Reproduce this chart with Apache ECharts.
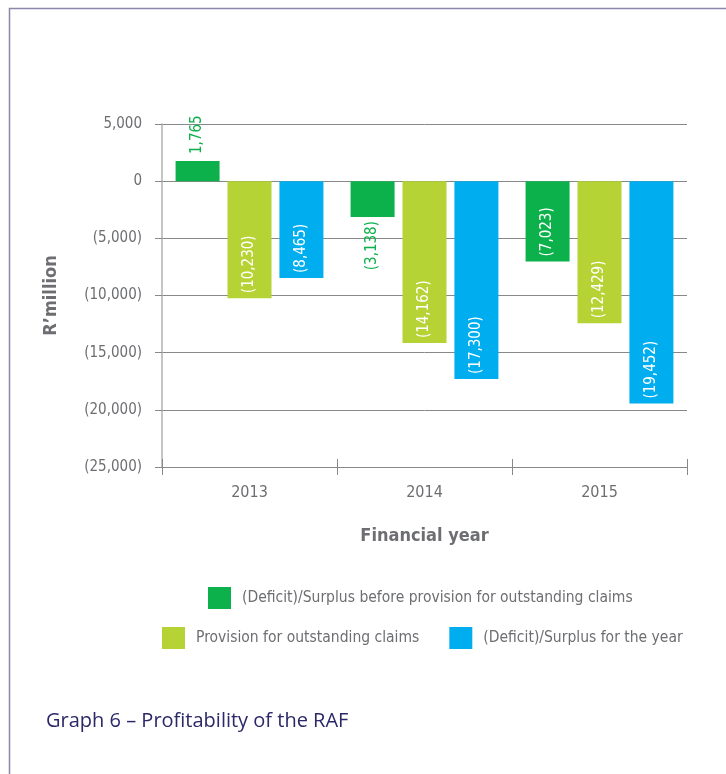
<!DOCTYPE html>
<html>
<head>
<meta charset="utf-8">
<style>
  html, body { margin: 0; padding: 0; background: #ffffff; }
  #chart { width: 726px; height: 774px; }
</style>
<script src="https://cdn.jsdelivr.net/npm/echarts@6/dist/echarts.min.js"></script>
</head>
<body>
<div id="chart"></div>
<script>
// Financial years on the category axis
const years = ['2013', '2014', '2015'];

// Series names (legend entries)
const seriesNames = [
  '(Deficit)/Surplus before provision for outstanding claims',
  'Provision for outstanding claims',
  '(Deficit)/Surplus for the year'
];

// Values in R'million
const beforeProvision = [1765, -3138, -7023];
const provisionClaims = [-10230, -14162, -12429];
const surplusForYear = [-8465, -17300, -19452];

// Value axis settings
const yMin = -25000;
const yMax = 5000;
const yStep = 5000;

const NARROW = '"Liberation Sans Narrow", "DejaVu Sans Condensed", sans-serif';
const GREY = '#6d6e71';
const COLORS = ['#0db14b', '#b5d334', '#00aeef'];

function fmt(v) {
  const s = Math.abs(v).toLocaleString('en-US');
  return v < 0 ? '(' + s + ')' : s;
}

const insideLabel = {
  show: true,
  position: 'insideBottom',
  distance: 5,
  rotate: 90,
  align: 'left',
  verticalAlign: 'middle',
  color: '#ffffff',
  fontFamily: NARROW,
  fontSize: 15,
  formatter: p => fmt(p.value)
};

function barSeries(idx, values, labelFor) {
  return {
    name: seriesNames[idx],
    type: 'bar',
    barWidth: 44,
    barGap: '18%',
    itemStyle: { color: COLORS[idx] },
    label: insideLabel,
    data: values.map((v, i) => {
      const item = { value: v };
      const lbl = labelFor ? labelFor(v, i) : null;
      if (lbl) item.label = lbl;
      return item;
    })
  };
}

const legendText = { fontFamily: NARROW, fontSize: 15.5, color: GREY, padding: [0, 0, 0, 6] };

const chart = echarts.init(document.getElementById('chart'), null, { renderer: 'canvas' });

chart.setOption({
  animation: false,
  backgroundColor: '#ffffff',
  title: {
    text: 'Graph 6 – Profitability of the RAF',
    left: 46,
    top: 711,
    padding: 0,
    textStyle: {
      fontFamily: '"Open Sans", "Noto Sans", sans-serif',
      fontWeight: 'normal',
      fontSize: 20,
      color: '#2b2868'
    }
  },
  legend: [
    {
      data: [seriesNames[0]],
      left: 208,
      top: 587,
      padding: 0,
      itemWidth: 23,
      itemHeight: 22,
      icon: 'rect',
      selectedMode: false,
      textStyle: legendText
    },
    {
      data: [seriesNames[1], seriesNames[2]],
      left: 162,
      top: 627,
      padding: 0,
      itemGap: 30,
      itemWidth: 23,
      itemHeight: 22,
      icon: 'rect',
      selectedMode: false,
      textStyle: legendText
    }
  ],
  grid: { left: 162, right: 39, top: 124, bottom: 307, containLabel: false },
  xAxis: [
    {
      type: 'category',
      data: years,
      position: 'bottom',
      name: 'Financial year',
      nameLocation: 'middle',
      nameGap: 60,
      nameTextStyle: { fontFamily: NARROW, fontWeight: 'bold', fontSize: 18, color: GREY },
      axisLine: { show: true, onZero: false, lineStyle: { color: '#888888', width: 1 } },
      axisTick: { show: true, length: 8, lineStyle: { color: '#888888' } },
      axisLabel: { fontFamily: NARROW, fontSize: 16, color: GREY, margin: 18 }
    },
    {
      // inward-pointing ticks at the category boundaries
      type: 'category',
      data: years,
      position: 'bottom',
      axisLine: { show: false, onZero: false },
      axisTick: { show: true, inside: true, length: 8, lineStyle: { color: '#888888' } },
      axisLabel: { show: false }
    }
  ],
  yAxis: {
    type: 'value',
    min: yMin,
    max: yMax,
    interval: yStep,
    name: 'R\u2019million',
    nameLocation: 'middle',
    nameGap: 102,
    nameRotate: 90,
    nameTextStyle: { fontFamily: NARROW, fontWeight: 'bold', fontSize: 18, color: GREY },
    axisLine: { show: true, lineStyle: { color: '#b0b0b0', width: 1.5 } },
    axisTick: { show: true, length: 7, lineStyle: { color: '#888888' } },
    splitLine: { show: true, lineStyle: { color: '#888888', width: 1 } },
    axisLabel: {
      fontFamily: NARROW, fontSize: 15, color: GREY, margin: 20,
      formatter: v => fmt(v)
    }
  },
  series: [
    barSeries(0, beforeProvision, (v, i) => {
      if (v > 0) {
        return { position: 'top', align: 'left', color: COLORS[0], distance: 7 };
      }
      if (v > -4000) {
        return { position: 'bottom', align: 'right', color: COLORS[0], distance: 4 };
      }
      return null;
    }),
    barSeries(1, provisionClaims),
    barSeries(2, surplusForYear)
  ],
  graphic: [
    {
      type: 'polyline',
      silent: true,
      shape: { points: [[9.5, 774], [9.5, 8.5], [726, 8.5]] },
      style: { stroke: '#8a88aa', lineWidth: 1.5, fill: null }
    }
  ]
});
</script>
</body>
</html>
